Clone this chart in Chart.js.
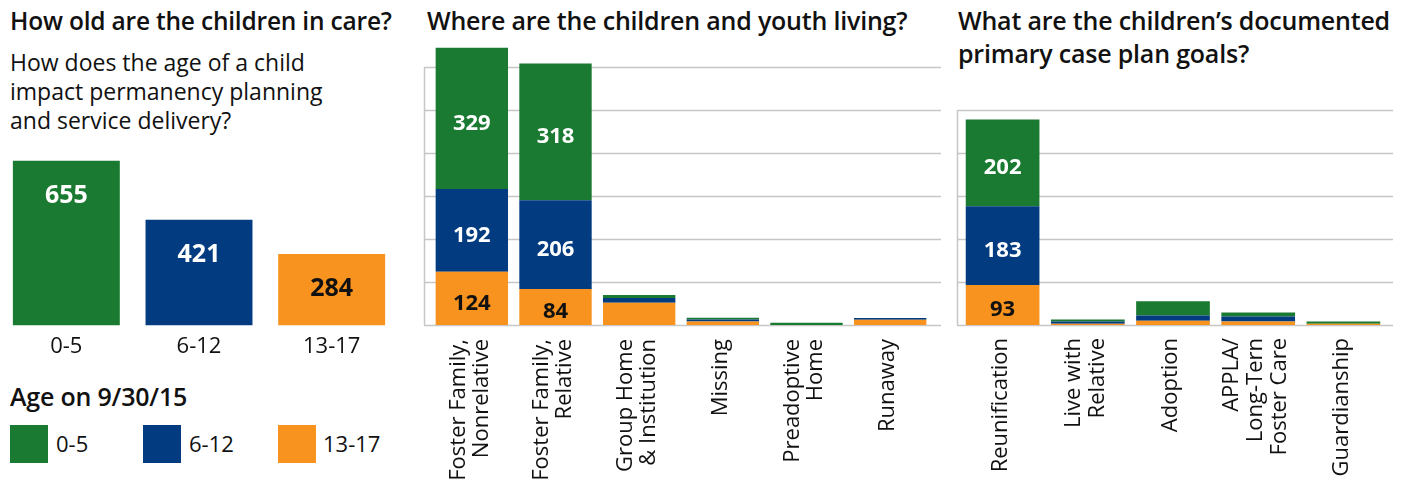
<!DOCTYPE html>
<html>
<head>
<meta charset="utf-8">
<script src="https://cdn.jsdelivr.net/npm/chart.js@4.4.1/dist/chart.umd.min.js"></script>
<style>
    body { margin: 0; width: 1411px; height: 485px; background: #fff; font-family: "Open Sans", sans-serif; color: #111; position: relative; overflow: hidden; }
    .box { position: absolute; top: 0; height: 485px; }
    .title { position: absolute; font-size: 25px; font-weight: 600; line-height: 33px; white-space: nowrap; letter-spacing: -0.2px; }
    .sub { position: absolute; left: 10px; top: 48px; font-size: 23px; line-height: 29px; white-space: nowrap; }
    .swatch { position: absolute; top: 425px; width: 38px; height: 38px; }
    .lg { position: absolute; top: 428px; font-size: 22px; line-height: 30px; }
</style>
</head>
<body>
<div class="title" style="left:10px;top:4px;font-size:24.5px">How old are the children in care?</div>
<div class="sub">How does the age of a child<br>impact permanency planning<br>and service delivery?</div>
<div class="title" style="left:427px;top:4px">Where are the children and youth living?</div>
<div class="title" style="left:958px;top:4px">What are the children’s documented<br>primary case plan goals?</div>

<div class="title" style="left:10px;top:380px">Age on 9/30/15</div>
<div class="swatch" style="left:10px;background:#1a7a31"></div><div class="lg" style="left:56px">0-5</div>
<div class="swatch" style="left:143px;background:#023b80"></div><div class="lg" style="left:189px">6-12</div>
<div class="swatch" style="left:278px;background:#f7931e"></div><div class="lg" style="left:323px">13-17</div>

<div class="box" style="left:0;width:400px"><canvas id="ageChart" width="400" height="485"></canvas></div>
<div class="box" style="left:405px;width:545px"><canvas id="placeChart" width="545" height="485"></canvas></div>
<div class="box" style="left:950px;width:461px"><canvas id="goalChart" width="461" height="485"></canvas></div>

<script>
const green = '#1a7a31';
const blue = '#023b80';
const orange = '#f7931e';

// age of children in care
const ageGroups = ['0-5', '6-12', '13-17'];
const ageTotals = [655, 421, 284];

// placement settings, stacked by age group
const placeLabels = [['Foster Family,', 'Nonrelative'], ['Foster Family,', 'Relative'], ['Group Home', '& Institution'], ['Missing'], ['Preadoptive', 'Home'], ['Runaway']];
const place0to5 = [329, 318, 7, 4, 5, 0];
const place6to12 = [192, 206, 11, 5, 0, 4];
const place13to17 = [124, 84, 52, 8, 0, 12];

// case plan goals, stacked by age group
const goalLabels = [['Reunification'], ['Live with', 'Relative'], ['Adoption'], ['APPLA/', 'Long-Tern', 'Foster Care'], ['Guardianship']];
const goal0to5 = [202, 5, 33, 9, 5];
const goal6to12 = [183, 5, 12, 12, 0];
const goal13to17 = [93, 3, 10, 8, 3];

const gridColor = '#c6c6c6';

// gray gridlines + left axis, a bit wider than the category area
const gridPlugin = {
    id: 'gridPlugin',
    beforeDatasetsDraw(chart, args, opts) {
        if (!opts.max) return;
        const ctx = chart.ctx;
        const y = chart.scales.y;
        const area = chart.chartArea;
        const l = area.left - opts.extLeft;
        const r = area.right + opts.extRight;
        ctx.save();
        ctx.strokeStyle = gridColor;
        ctx.lineWidth = 1.5;
        for (let v = 0; v <= opts.max; v += 100) {
            const py = Math.round(y.getPixelForValue(v)) + 0.5;
            ctx.beginPath();
            ctx.moveTo(l, py);
            ctx.lineTo(r, py);
            ctx.stroke();
        }
        ctx.beginPath();
        ctx.moveTo(l + 0.5, y.getPixelForValue(opts.max));
        ctx.lineTo(l + 0.5, y.getPixelForValue(0));
        ctx.stroke();
        ctx.restore();
    }
};

// numbers inside the bars
const valuePlugin = {
    id: 'valuePlugin',
    afterDatasetsDraw(chart, args, opts) {
        const ctx = chart.ctx;
        ctx.save();
        ctx.font = `bold ${opts.size}px "Open Sans"`;
        ctx.textAlign = 'center';
        ctx.textBaseline = 'middle';
        chart.data.datasets.forEach((ds, di) => {
            const meta = chart.getDatasetMeta(di);
            meta.data.forEach((bar, i) => {
                const v = ds.data[i];
                if (v < 60) return;
                const col = Array.isArray(ds.backgroundColor) ? ds.backgroundColor[i] : ds.backgroundColor;
                ctx.fillStyle = col === orange ? '#111' : '#fff';
                const py = opts.top ? bar.y + opts.top : (bar.y + bar.base) / 2 + 5;
                ctx.fillText(String(v), bar.x, py);
            });
        });
        ctx.restore();
    }
};

// category labels under the axis
const catPlugin = {
    id: 'catPlugin',
    afterDraw(chart, args, opts) {
        const ctx = chart.ctx;
        const x = chart.scales.x;
        ctx.save();
        ctx.fillStyle = '#111';
        ctx.font = '22px "Open Sans"';
        chart.data.labels.forEach((lab, i) => {
            const px = x.getPixelForValue(i);
            const lines = Array.isArray(lab) ? lab : [lab];
            if (!opts.rotate) {
                ctx.textAlign = 'center';
                ctx.textBaseline = 'middle';
                ctx.fillText(lines[0], px, opts.top);
                return;
            }
            ctx.textAlign = 'right';
            ctx.textBaseline = 'middle';
            lines.forEach((line, j) => {
                const cx = px + (j - (lines.length - 1) / 2) * opts.lineHeight - 2;
                ctx.save();
                ctx.translate(cx, opts.top);
                ctx.rotate(-Math.PI / 2);
                ctx.fillText(line, 0, 0);
                ctx.restore();
            });
        });
        ctx.restore();
    }
};

Chart.register(gridPlugin, valuePlugin, catPlugin);

function baseOptions(max, pad, extra) {
    return {
        responsive: false,
        animation: false,
        devicePixelRatio: 1,
        layout: { padding: pad },
        scales: {
            x: { display: false, stacked: true },
            y: { display: false, stacked: true, min: 0, max: max }
        },
        plugins: Object.assign({ legend: { display: false }, tooltip: { enabled: false } }, extra)
    };
}

new Chart(document.getElementById('ageChart'), {
    type: 'bar',
    data: {
        labels: ageGroups,
        datasets: [{
            data: ageTotals,
            backgroundColor: [green, blue, orange],
            barPercentage: 1,
            categoryPercentage: 0.806
        }]
    },
    options: baseOptions(700, { left: 0, right: 2, top: 149.5, bottom: 159.5 }, {
        gridPlugin: { max: 0 },
        valuePlugin: { size: 25, top: 35 },
        catPlugin: { rotate: false, top: 347 }
    })
});

function stackedSets(a, b, c) {
    return [
        { data: c, backgroundColor: orange },
        { data: b, backgroundColor: blue },
        { data: a, backgroundColor: green }
    ].map(d => Object.assign(d, { barPercentage: 1, categoryPercentage: 0.865, clip: false }));
}

new Chart(document.getElementById('placeChart'), {
    type: 'bar',
    data: { labels: placeLabels, datasets: stackedSets(place0to5, place6to12, place13to17) },
    options: baseOptions(600, { left: 25, right: 18, top: 67, bottom: 160 }, {
        gridPlugin: { max: 600, extLeft: 6, extRight: 9 },
        valuePlugin: { size: 22 },
        catPlugin: { rotate: true, top: 339, lineHeight: 23 }
    })
});

new Chart(document.getElementById('goalChart'), {
    type: 'bar',
    data: { labels: goalLabels, datasets: stackedSets(goal0to5, goal6to12, goal13to17) },
    options: baseOptions(500, { left: 10, right: 25, top: 110, bottom: 160 }, {
        gridPlugin: { max: 500, extLeft: 3, extRight: 7 },
        valuePlugin: { size: 22 },
        catPlugin: { rotate: true, top: 338, lineHeight: 24 }
    })
});
</script>
</body>
</html>
